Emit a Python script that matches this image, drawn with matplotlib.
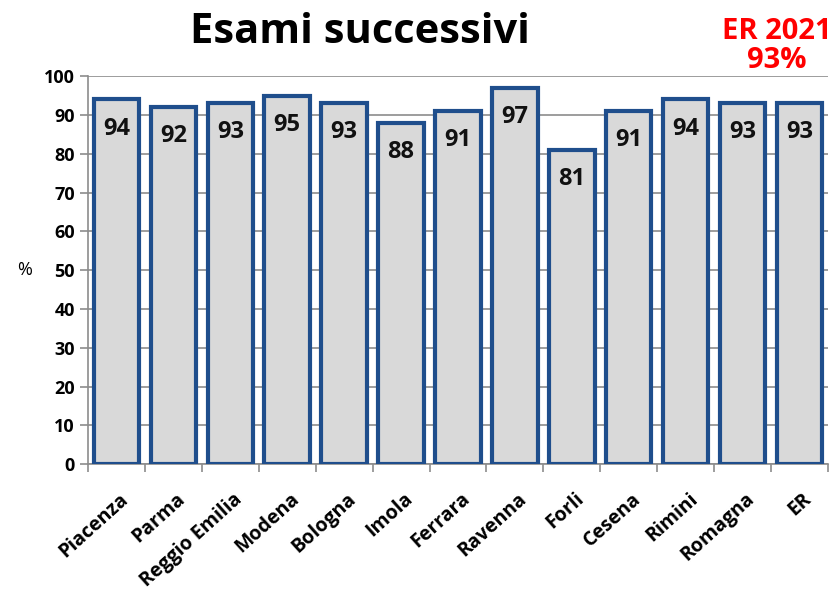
import matplotlib.pyplot as plt
import numpy as np

cities = ["Piacenza", "Parma", "Reggio Emilia", "Modena", "Bologna", "Imola",
          "Ferrara", "Ravenna", "Forli", "Cesena", "Rimini", "Romagna", "ER"]
values = [94, 92, 93, 95, 93, 88, 91, 97, 81, 91, 94, 93, 93]

title = "Esami successivi"
note = "ER 2021\n93%"


def main():
    fig = plt.figure(figsize=(8.38, 5.95), dpi=100)
    ax = fig.add_axes([0.105, 0.22, 0.883, 0.652])

    xs = np.arange(len(cities))
    ax.bar(xs, values, width=0.8, color="#D9D9D9", edgecolor="#1F4E8C",
           linewidth=3, zorder=3)

    for x, v in zip(xs, values):
        ax.text(x, v - 7.5, str(v), ha="center", va="center", fontsize=17,
                fontweight="bold", family="Open Sans", color="#111111", zorder=4)

    ax.set_xlim(-0.5, len(cities) - 0.5)
    ax.set_ylim(0, 100)
    ax.set_yticks(range(0, 101, 10))
    ax.yaxis.grid(True, color="#8C8C8C", linewidth=1.2, zorder=0)
    ax.set_axisbelow(True)

    for s in ["top", "right"]:
        ax.spines[s].set_visible(False)
    for s in ["left", "bottom"]:
        ax.spines[s].set_color("#8C8C8C")
        ax.spines[s].set_linewidth(1.2)

    ax.set_xticks(xs + 0.05)
    ax.set_xticklabels(cities, rotation=42, ha="right", rotation_mode="anchor",
                       fontsize=14, fontweight="bold", family="Open Sans")
    ax.tick_params(axis="x", length=0, pad=18)
    ax.set_xticks(np.arange(len(cities) + 1) - 0.5, minor=True)
    ax.tick_params(axis="x", which="minor", length=6, color="#8C8C8C", width=1.2)
    ax.tick_params(axis="y", length=6, color="#8C8C8C", width=1.2, labelsize=13)
    for lab in ax.get_yticklabels():
        lab.set_fontweight("bold")
        lab.set_family("Open Sans")

    ax.set_ylabel("%", rotation=0, fontsize=13, family="Open Sans", labelpad=14,
                  va="center")

    fig.text(0.43, 0.945, title, ha="center", va="center", fontsize=30,
             fontweight="bold", family="Open Sans")
    fig.text(0.927, 0.922, note, ha="center", va="center", fontsize=21,
             fontweight="bold", family="Open Sans", color="#FF0000",
             linespacing=1.0)

    fig.savefig("out.png", dpi=100)
    plt.close(fig)


if __name__ == "__main__":
    main()
